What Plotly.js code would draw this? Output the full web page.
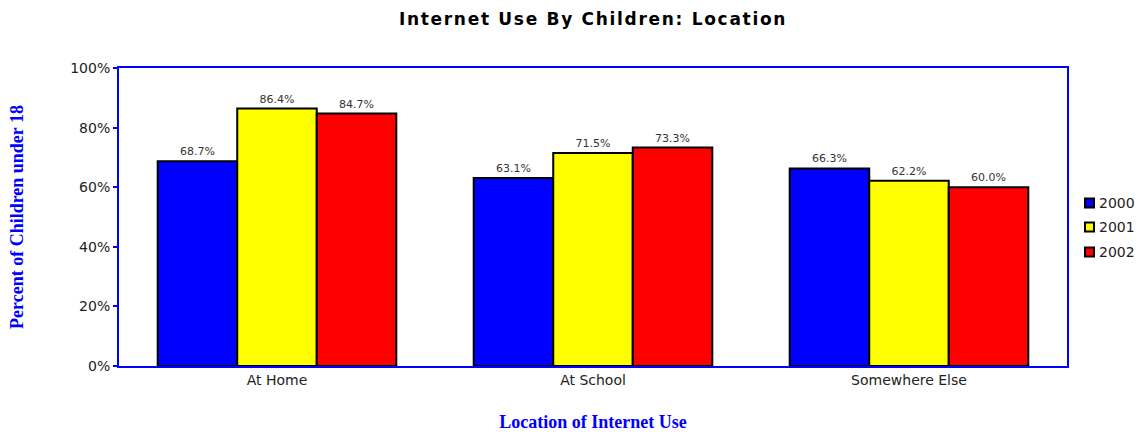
<!DOCTYPE html>
<html><head><meta charset="utf-8">
<script src="https://cdn.plot.ly/plotly-3.0.1.min.js"></script>
<style>body{margin:0;background:#fff}#c{width:1144px;height:432px}
.gtitle{letter-spacing:1.7px}
.textpoint text{letter-spacing:1px}
</style>
</head><body><div id="c"></div>
<script>
const categories = ["At Home", "At School", "Somewhere Else"];
const years = ["2000", "2001", "2002"];
const v2000 = [68.7, 63.1, 66.3];
const v2001 = [86.4, 71.5, 62.2];
const v2002 = [84.7, 73.3, 60.0];
const colors = ["#0000ff", "#ffff00", "#ff0000"];
const series = [v2000, v2001, v2002];

const W = 1144, H = 432, ML = 119, MR = 77, MT = 68, MB = 66;
const PW = W - ML - MR, PH = H - MT - MB;
const px2x = p => (p - ML) / PW;
const py2y = p => (H - MB - p) / PH;

const traces = series.map((vals, i) => ({
  type: 'bar', name: years[i], x: categories, y: vals,
  marker: {color: colors[i], line: {color: '#000', width: 2}},
  text: vals.map(v => v.toFixed(1) + '%'), textposition: 'outside',
  textfont: {family: 'DejaVu Sans', size: 11, color: '#333'},
  cliponaxis: false, hoverinfo: 'none', showlegend: false
}));

// custom legend (layout positions, not data)
const legY = [203, 227, 252];
const shapes = years.map((y, i) => ({
  type: 'rect', xref: 'paper', yref: 'paper',
  x0: px2x(1085), x1: px2x(1094), y0: py2y(legY[i] + 4.5), y1: py2y(legY[i] - 4.5),
  fillcolor: colors[i], line: {color: '#000', width: 2}
}));
const annotations = years.map((y, i) => ({
  xref: 'paper', yref: 'paper', x: px2x(1097), y: py2y(legY[i]),
  xanchor: 'left', yanchor: 'middle', text: y, showarrow: false,
  font: {family: 'DejaVu Sans', size: 14, color: '#222'}
}));

const layout = {
  width: W, height: H,
  margin: {l: ML, r: MR, t: MT, b: MB},
  paper_bgcolor: '#fff', plot_bgcolor: '#fff',
  barmode: 'group', bargap: 0.245, bargroupgap: 0,
  showlegend: false,
  shapes: shapes, annotations: annotations,
  title: {text: '<b>Internet Use By Children: Location</b>', xref: 'paper', x: 0.5, xanchor: 'center',
    yref: 'container', y: 0.956, yanchor: 'middle',
    font: {family: 'DejaVu Sans', size: 17, color: '#000'}},
  xaxis: {showline: true, linecolor: '#0000ff', linewidth: 2, mirror: true, ticks: '',
    tickfont: {family: 'DejaVu Sans', size: 14, color: '#222'},
    title: {text: '<b>Location of Internet Use</b>', standoff: 29,
      font: {family: 'Liberation Serif', size: 18, color: '#0000ff'}}},
  yaxis: {range: [0, 100], dtick: 20, ticksuffix: '%', showgrid: false, zeroline: false,
    showline: true, linecolor: '#0000ff', linewidth: 2, mirror: true, ticks: 'outside',
    tickcolor: '#0000ff', ticklen: 4, tickwidth: 2,
    tickfont: {family: 'DejaVu Sans', size: 14, color: '#222'},
    title: {text: '<b>Percent of Children under 18</b>', standoff: 42,
      font: {family: 'Liberation Serif', size: 18, color: '#0000ff'}}}
};
Plotly.newPlot('c', traces, layout, {displayModeBar: false, staticPlot: true});
</script></body></html>
